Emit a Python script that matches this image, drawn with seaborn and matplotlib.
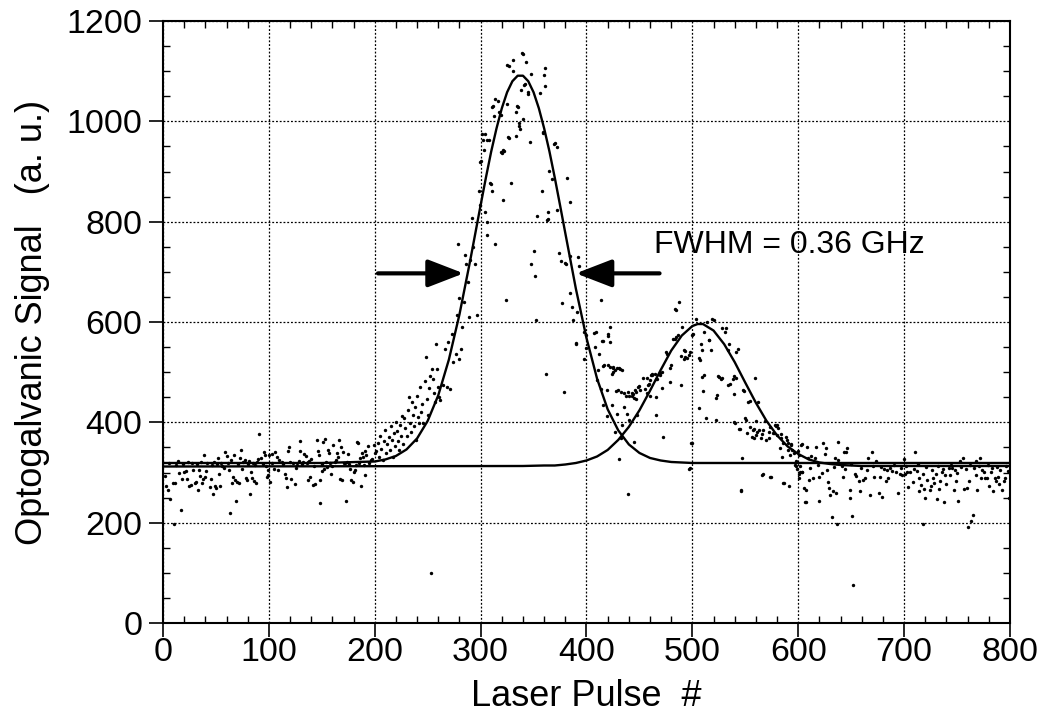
import matplotlib
matplotlib.use("Agg")
import matplotlib.pyplot as plt
import seaborn as sns
import pandas as pd
from matplotlib.ticker import MultipleLocator

# ---------------- data ----------------
# scatter: (laser pulse #, optogalvanic signal)
baseline_left = [(2,293),(3,274),(5,265),(6,318),(7,248),(9,279),(10,197),(11,280),(12,314),(14,322),
    (15,299),(17,225),(18,287),(19,316),(20,301),(22,303),(23,287),(24,320),(25,273),(26,276),
    (27,318),(28,305),(30,280),(31,282),(32,316),(33,265),(34,305),(35,293),(36,321),(37,279),
    (38,287),(39,335),(40,291),(41,303),(42,318),(44,272),(45,287),(46,314),(47,257),(48,321),
    (49,273),(50,269),(51,317),(52,328),(53,298),(54,273),(55,318),(56,313),(58,309),(59,341),
    (60,333),(61,319),(62,305),(63,220),(64,324),(65,279),(66,291),(67,335),(68,285),(69,243),
    (70,282),(71,316),(72,280),(73,328),(74,345),(75,307),(76,320),(77,324),(78,289),(79,285),
    (80,316),(81,322),(82,257),(83,301),(84,289),(85,318),(86,283),(87,315),(88,280),(89,321),
    (90,326),(91,376),(93,328),(94,317),(95,340),(96,335),(97,312),(98,291),(99,305)]

baseline_mid = [(100,335),(103,337),(106,341),(108,331),(110,325),(112,321),(101,282),(99,295),(105,308),
    (109,306),(115,298),(116,290),(117,272),(119,351),(118,343),(121,288),(125,278),(123,318),(126,310),
    (129,343),(129,363),(128,323),(132,321),(133,337),(135,333),(136,319),(137,321),(139,291),(137,286),
    (140,326),(142,275),(144,278),(145,365),(146,343),(147,335),(148,286),(148,240),(150,303),(151,361),
    (153,366),(152,308),(155,311),(156,345),(157,338),(158,319),(159,297),(161,355),(162,321),(163,325),
    (164,339),(165,331),(166,365),(167,288),(168,350),(169,286),(170,341),(172,318),(173,244),(174,321),
    (175,337),(177,308),(178,286),(179,282),(180,301),(181,305),(183,361),(184,358),(186,328),(187,273),
    (188,338),(189,330),(191,343),(191,295),(192,335),(194,353),(196,325),(197,326),(199,355),(200,338),
    (103,318),(113,316),(120,320),(127,314),(131,317),(138,322),(143,313),(150,316),(154,320),(160,313),
    (171,319),(176,316),(182,314),(185,319),(190,315),(195,318)]

rise = [(201,342),(203,358),(204,331),(205,372),(206,347),(208,325),(209,362),(210,385),(211,338),
    (212,356),(213,371),(214,344),(215,392),(216,365),(217,330),(218,378),(219,352),(220,401),(221,383),
    (222,362),(223,345),(224,395),(225,372),(226,412),(227,356),(228,408),(229,388),(230,372),(231,425),
    (232,451),(233,398),(234,380),(235,441),(236,415),(237,392),(238,431),(239,365),(240,452),(241,410),
    (242,398),(243,470),(244,421),(245,436),(246,398),(247,482),(248,530),(249,446),(250,415),(251,468),
    (252,492),(253,100),(254,507),(255,487),(256,458),(257,440)]

main_peak = [(258,557),(259,507),(260,471),(261,451),(262,444),(264,475),(266,547),(268,471),(269,560),
    (271,467),(273,577),(274,520),(277,537),(278,613),(280,527),(280,647),(281,547),(282,590),(279,755),
    (284,640),(285,733),(286,715),(288,680),(289,610),(290,723),(292,808),(293,750),(295,715),(297,613),
    (298,861),(299,833),(299,919),(300,921),(301,975),(302,962),(303,942),(304,975),(304,819),(306,799),
    (306,773),(306,962),(308,963),(309,877),(310,876),(311,861),(311,1028),(312,1030),(313,1010),
    (314,1044),(314,756),(316,1040),(317,1019),(319,939),(319,1012),(320,936),(321,942),(321,843),
    (322,941),(324,643),(325,1035),(325,1113),(326,969),(327,1111),(327,967),(329,877),(331,1123),
    (331,1101),(333,1019),(333,971),(334,1030),(335,1028),(336,990),(336,997),(337,985),(338,1062),
    (339,1137),(340,1135),(340,1005),(341,1073),(342,1074),(343,1119),(345,1054),(345,1059),(347,959),
    (348,1095),(348,715),(350,742),(351,691),(352,604),(353,811),(356,1057),(358,861),(359,977),
    (359,979),(360,1093),(361,1070),(361,1106),(362,497),(364,819),(364,805),(363,803),(365,902),
    (367,885),(369,955),(370,957),(372,948),(372,823),(374,738),(376,722),(377,637),(379,461),(380,718),
    (381,715),(382,888),(384,657),(384,839),(384,732),(386,630),(387,604),(390,558),(391,620),(392,730),
    (393,712)]

second_peak = [(398,580),(400,574),(390,557),(407,578),(409,580),(420,576),(422,561),(415,563),(398,527),
    (400,548),(408,551),(412,537),(411,505),(416,513),(420,515),(425,511),(429,508),(432,507),(434,505),
    (410,485),(414,467),(419,465),(416,434),(424,434),(425,500),(428,462),(430,465),(433,461),(435,458),
    (437,452),(440,453),(443,458),(444,456),(447,447),(447,460),(450,472),(451,464),(453,489),(455,467),
    (457,458),(458,475),(460,485),(460,452),(462,497),(465,496),(466,487),(466,451),(469,498),(471,469),
    (475,540),(476,537),(479,480),(480,514),(484,567),(485,570),(489,474),(489,532),(492,526),(493,542),
    (495,529),(498,540),(500,575),(500,358),(498,309),(507,525),(509,545),(511,494),(510,462),(506,428),
    (513,408),(516,565),(518,544),(522,404),(524,492),(528,489),(535,557),(534,474),(538,487),(539,456),
    (540,398),(541,541),(544,386),(545,386),(547,329),(546,263),(548,464),(550,409),(551,405),(553,441),
    (552,378),(554,391),(556,371),(557,384),(558,368),(559,489),(560,402),(561,380),(562,441),(563,384),
    (565,368),(566,295),(567,384),(570,365),(572,368),(573,391),(574,291),(576,378),(577,378),(578,394),
    (580,394),(580,375),(581,388),(583,348),(584,368),(585,331),(586,279),(588,371),(590,358),(591,273),
    (592,335),(593,355),(594,345),(597,315),(598,322),(599,308),(600,342),(601,298),(601,289),(601,335),
    (602,302),(603,355),(604,302),(605,270),(607,242),(608,350),(609,328),
    (414,643),(422,590),(420,573),(416,562),(417,514),(422,511),(425,508),(427,505),(431,508),(424,497),
    (439,461),(443,452),(445,448),(446,465),(449,470),(457,488),(459,476),(461,494),(462,495),(467,486),
    (469,494),(471,500),(419,412),(429,416),(435,430),(438,417),(440,404),(434,394),(427,381),(433,369),
    (431,326),(445,360),(448,414),(472,371),(466,415),(479,509),(482,566),(486,574),(485,623),(490,590),
    (492,545),(493,531),(497,535),(499,359),(501,577),(503,607),(506,529),(508,556),(509,490),(511,580),
    (514,600),(516,564),(519,607),(520,605),(522,448),(523,454),(525,490),(527,486),(528,589),(531,580),
    (532,589),(534,545),(536,477),(539,493),(541,489),(543,546),(549,462),(554,442),(539,400),(558,387),
    (560,374),(566,377),(569,402),(572,380),(579,393),(584,377),(586,359),(589,365),(590,345),(593,357),
    (598,313),(596,338),(567,297),(573,291),(587,280),(546,265),(497,308),(487,640),(484,625),(439,258)]

baseline_right = [(604,356),(604,302),(607,265),(606,242),(610,286),(612,332),(614,290),(616,328),(617,350),
    (620,292),(620,244),(622,300),(623,358),(625,337),(626,348),(628,282),(629,269),(630,256),(632,212),
    (633,264),(635,329),(636,260),(637,197),(638,324),(638,361),(641,313),(642,292),(643,340),(645,340),
    (646,348),(649,266),(649,250),(651,213),(652,76),(654,297),(655,294),(657,284),(658,263),(661,286),
    (663,289),(666,328),(668,256),(670,341),(672,292),(673,323),(676,260),(677,292),(679,252),(681,307),
    (683,284),(685,289),(687,309),(689,304),(692,302),(694,260),(696,298),(698,295),(700,327),(701,298),
    (703,302),(704,272),(706,302),(708,282),(710,341),(712,304),(714,289),(714,263),(716,276),(718,298),
    (719,268),(720,250),(718,197),(722,286),(724,266),(725,274),(727,289),(728,280),(730,298),(731,248),
    (733,268),(734,284),(736,302),(738,242),(739,296),(740,278),(742,310),(743,295),(745,310),(747,265),
    (749,284),(750,300),(751,244),(753,323),(756,328),(757,268),(759,270),(760,192),(761,284),(763,204),
    (765,216),(768,295),(768,323),(769,266),(772,328),(773,289),(775,302),(776,289),(778,289),(780,274),
    (782,302),(784,263),(786,289),(787,284),(789,291),(790,277),(792,265),(794,284),(795,289),(799,250),
    (602,312),(611,309),(619,315),(627,306),(634,311),(644,308),(650,316),(659,310),(665,305),(671,313),
    (678,311),(684,306),(690,314),(697,309),(702,312),(709,307),(713,316),(721,311),(726,305),(732,313),
    (737,308),(744,314),(748,306),(754,311),(758,308),(762,315),(766,309),(771,312),(774,306),(779,314),
    (783,309),(788,311),(791,305),(796,313),(798,303)]

# fitted curves
fit1_pulse = [0,150,200,210,220,230,240,250,260,270,280,290,300,305,310,315,320,325,330,335,340,345,
              350,355,360,365,370,375,380,390,400,410,420,430,440,450,460,470,480,490,500,800]
fit1_signal = [319,319,322,326,333,346,368,403,454,525,615,721,833,888,940,986,1026,1058,1080,1091,1091,
               1080,1058,1026,986,940,888,833,777,666,568,487,426,384,356,339,329,324,321,320,319,319]
fit2_pulse = [0,340,360,370,380,390,400,410,420,430,440,450,460,470,480,490,500,505,510,520,530,540,550,
              560,570,580,590,600,610,620,630,640,650,660,800]
fit2_signal = [312,313,314,314,316,319,324,332,345,365,391,424,463,504,543,573,592,596,596,583,556,520,
               479,439,403,374,352,337,326,320,317,315,314,313,313]

x_ticks = [0, 100, 200, 300, 400, 500, 600, 700, 800]
y_ticks = [0, 200, 400, 600, 800, 1000, 1200]
annotation = "FWHM = 0.36 GHz"

# ---------------- plot ----------------
sns.set_style("ticks")
plt.rcParams['font.family'] = ['Liberation Sans', 'DejaVu Sans']
plt.rcParams.update({"text.color": "black", "axes.labelcolor": "black",
                     "xtick.color": "black", "ytick.color": "black",
                     "xtick.labelcolor": "black", "ytick.labelcolor": "black"})

points = pd.DataFrame(baseline_left + baseline_mid + rise + main_peak + second_peak + baseline_right,
                      columns=["pulse", "signal"])

fig = plt.figure(figsize=(10.41, 7.2), dpi=100)
ax = fig.add_axes([0.1566, 0.1347, 0.8136, 0.8361])

sns.scatterplot(data=points, x="pulse", y="signal", s=6, color="black", linewidth=0, ax=ax, zorder=3)
sns.lineplot(x=fit1_pulse, y=fit1_signal, color="black", lw=1.7, estimator=None, ax=ax, zorder=4)
sns.lineplot(x=fit2_pulse, y=fit2_signal, color="black", lw=1.7, estimator=None, ax=ax, zorder=4)

ax.set_xlim(0, 800)
ax.set_ylim(0, 1200)
ax.set_xticks(x_ticks)
ax.set_yticks(y_ticks)
ax.xaxis.set_minor_locator(MultipleLocator(20))
ax.yaxis.set_minor_locator(MultipleLocator(50))
ax.grid(True, which="major", color="black", linestyle=(0, (1.5, 1.5)), linewidth=0.9)
ax.set_axisbelow(True)

ax.tick_params(which="major", direction="out", length=10, width=1.2, labelsize=24.5, color="black",
               top=False, right=False)
ax.tick_params(axis="x", which="major", pad=0)
ax.tick_params(axis="y", which="major", pad=5)
ax.tick_params(which="minor", direction="in", length=5, width=1, top=True, right=True,
               bottom=True, left=True, color="black")
for s in ax.spines.values():
    s.set_color("black")
    s.set_linewidth(1.5)

ax.set_xlabel("Laser Pulse  #", fontsize=26, labelpad=8)
ax.set_ylabel("Optogalvanic Signal   (a. u.)", fontsize=26)
ax.yaxis.set_label_coords(-0.133, 0.5)

arrow = dict(arrowstyle="-|>,head_length=2.2,head_width=0.85", color="black", lw=3,
             shrinkA=0, shrinkB=0, mutation_scale=10)
ax.annotate("", xy=(284, 697), xytext=(203, 697), arrowprops=arrow)
ax.annotate("", xy=(390, 697), xytext=(469, 697), arrowprops=arrow)
ax.text(464, 753, annotation, fontsize=23, ha="left", va="center")

fig.savefig("out.png", dpi=100)
